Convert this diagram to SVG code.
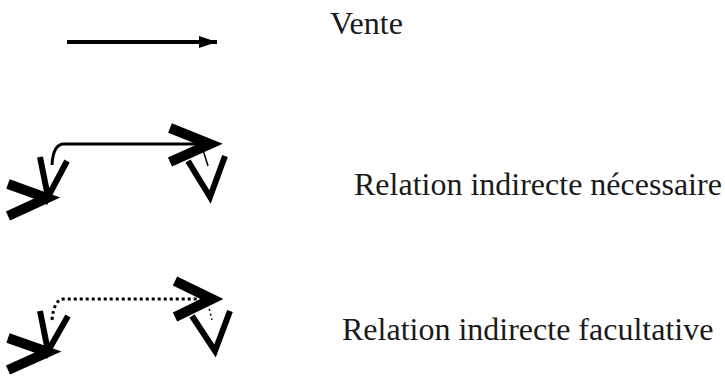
<svg xmlns="http://www.w3.org/2000/svg" width="725" height="376" viewBox="0 0 725 376">
<style>
.t{font-family:"Liberation Serif",serif;font-size:32px;fill:#1a1a1a}
.thick{fill:none;stroke:#000;stroke-width:10;stroke-linecap:butt;stroke-linejoin:miter}
.med{fill:none;stroke:#000;stroke-width:6;stroke-linecap:butt;stroke-linejoin:miter}
.thin{fill:none;stroke:#000;stroke-width:1.5}
.solid{fill:none;stroke:#000;stroke-width:3}
.dot{fill:none;stroke:#000;stroke-width:3;stroke-dasharray:3 3}
.dotthin{fill:none;stroke:#000;stroke-width:1.5;stroke-dasharray:2 3}
</style>
<defs>
<marker id="ah" markerWidth="4.5" markerHeight="3" refX="4.5" refY="1.5" orient="auto" markerUnits="strokeWidth">
<path d="M0,0 L4.5,1.5 L0,3 Z" fill="#000"/>
</marker>
</defs>
<g id="connectors">
<line x1="67" y1="42" x2="217" y2="42" stroke="#000" stroke-width="4" marker-end="url(#ah)"/>
<path class="solid" d="M52,165 Q53,144 64,144 L208,144"/>
<path class="thin" d="M203,150 L208,166"/>
<path class="dot" d="M52,320 Q54,299 64,299 L210,299"/>
<path class="dotthin" d="M208,304 L212,320"/>
</g>
<g id="legend-vente"><text class="t" x="330" y="34">Vente</text></g>
<g id="rel-necessaire">
<polyline class="thick" points="8,184 47,198 8,216"/>
<polyline class="med" points="40,157 48,197 67,161"/>
<polyline class="thick" points="170,128 210,144 170,162"/>
<polyline class="med" points="188,161 210,197 225,156"/>
<text class="t" x="354" y="195">Relation indirecte nécessaire</text>
</g>
<g id="rel-facultative">
<polyline class="thick" points="8,338 48,352 8,370"/>
<polyline class="med" points="40,311 48,351 68,316"/>
<polyline class="thick" points="175,281 212,299 175,317"/>
<polyline class="med" points="192,316 215,351 230,311"/>
<text class="t" x="342" y="340">Relation indirecte facultative</text>
</g>
</svg>
